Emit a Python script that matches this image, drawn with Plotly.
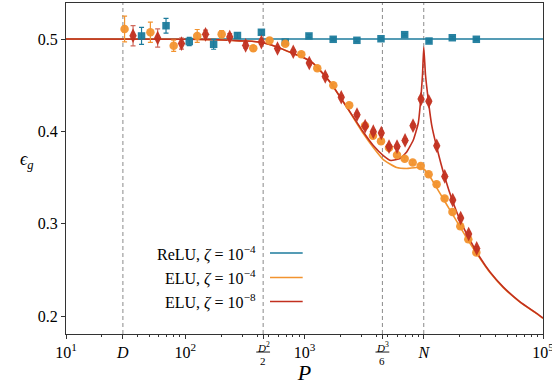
import numpy as np
import plotly.graph_objects as go

# ---------------- data ----------------
vlines_P = [30, 450, 4500, 10000]

relu_P = [43, 69, 108, 173, 274, 435, 690, 1090, 1740, 2750, 4380, 6920, 11070, 17350, 27600]
relu_eg = [0.5033, 0.5144, 0.4973, 0.4943, 0.5038, 0.5073, 0.4967, 0.5033, 0.4997,
           0.4986, 0.5003, 0.5047, 0.4978, 0.5014, 0.4997]
relu_err = [0.0092, 0.0080, 0.0045, 0.0054, 0.0030, 0.0022, 0.0020, 0.0016, 0.0015,
            0.0014, 0.0013, 0.0012, 0.0012, 0.0011, 0.0011]

elu4_P = [31, 51, 80, 126, 202, 372, 509, 690, 940, 1280, 1744, 2371, 3217, 3751, 4380,
          5110, 5968, 6920, 8075, 9425, 10985, 12815, 14960, 17400, 20250, 23630, 27600]
elu4_eg = [0.5108, 0.5073, 0.4927, 0.5033, 0.5051, 0.4899, 0.4984, 0.4949, 0.4835,
           0.4683, 0.4498, 0.4282, 0.4061, 0.3952, 0.3892, 0.3822, 0.3743, 0.3703,
           0.3662, 0.3624, 0.3534, 0.3426, 0.3272, 0.3126, 0.2972, 0.2830, 0.2689]
elu4_err = [0.014, 0.011, 0.006, 0.007, 0.004, 0.003, 0.003, 0.002, 0.002, 0.002, 0.002,
            0.002, 0.002, 0.002, 0.002, 0.002, 0.002, 0.002, 0.002, 0.002, 0.002, 0.002,
            0.002, 0.002, 0.002, 0.002, 0.002]

elu8_P = [36.5, 58.7, 93, 148, 236, 321, 435, 594, 805, 1097, 1493, 2033, 2756, 3226,
          3775, 4406, 5115, 5970, 6970, 8130, 9490, 11030, 12850, 15000, 17500, 20400,
          23800, 27800]
elu8_eg = [0.5036, 0.5011, 0.4950, 0.5051, 0.5022, 0.4930, 0.4967, 0.4897, 0.4862,
           0.4740, 0.4594, 0.4369, 0.4180, 0.4056, 0.3996, 0.3982, 0.3835, 0.3835,
           0.3902, 0.4061, 0.4350, 0.4326, 0.3844, 0.3512, 0.3256, 0.3061, 0.2888, 0.2732]
elu8_err = [0.011, 0.0098, 0.006, 0.0045, 0.0036, 0.003, 0.0025, 0.002, 0.002, 0.002,
            0.002, 0.002, 0.002, 0.002, 0.002, 0.002, 0.002, 0.002, 0.002, 0.002, 0.002,
            0.002, 0.002, 0.002, 0.002, 0.002, 0.002, 0.002]

relu_curve_P = [10, 100000]
relu_curve_eg = [0.5, 0.5]

red_curve_P = [10, 110, 171, 251, 329, 432, 588, 801, 917, 1178, 1636, 2259, 3113, 3775,
               4579, 5313, 6323, 7194, 8173, 9001, 9428, 9761, 10000, 10344, 10920, 11660,
               12840, 14990, 17690, 20140, 24430, 29630, 35940, 46460, 64150, 88560, 100000]
red_curve_eg = [0.5, 0.4998, 0.4993, 0.4984, 0.4978, 0.4964, 0.4913, 0.4843, 0.4816,
                0.4740, 0.4534, 0.4263, 0.3992, 0.3846, 0.3738, 0.3684, 0.3705, 0.3776,
                0.3906, 0.4090, 0.4339, 0.4610, 0.4913, 0.4610, 0.4339, 0.4068, 0.3830,
                0.3505, 0.3223, 0.3039, 0.2822, 0.2633, 0.2476, 0.2313, 0.2154, 0.2028,
                0.1977]

orange_curve_P = [10, 110, 171, 251, 329, 432, 588, 801, 917, 1178, 1636, 2259, 3113, 3775,
                  4579, 5212, 5932, 7194, 8727, 10000, 11280, 13690, 16600, 20140, 24430,
                  29630, 35940, 46460, 64150, 88560, 100000]
orange_curve_eg = [0.5, 0.4998, 0.4993, 0.4984, 0.4978, 0.4964, 0.4913, 0.4843, 0.4816,
                   0.4740, 0.4534, 0.4263, 0.3976, 0.3825, 0.3694, 0.3646, 0.3608, 0.3597,
                   0.3608, 0.3592, 0.3508, 0.3328, 0.3147, 0.2966, 0.2787, 0.2624, 0.2470,
                   0.2308, 0.2151, 0.2026, 0.1974]

x_tickvals = [10, 30, 100, 450, 1000, 4500, 10000, 100000]
x_ticktext = ["10<sup>1</sup>", "<i>D</i>", "10<sup>2</sup>", "", "10<sup>3</sup>", "",
              "<i>N</i>", "10<sup>5</sup>"]
frac_vals = [450, 4500]
frac_num = ["<i>D</i><sup>2</sup>", "<i>D</i><sup>3</sup>"]
frac_den = ["2", "6"]
y_tickvals = [0.2, 0.3, 0.4, 0.5]
y_ticktext = ["0.2", "0.3", "0.4", "0.5"]

legend_labels = ["ReLU, <i>ζ</i> = 10<sup>−4</sup>",
                 "ELU, <i>ζ</i> = 10<sup>−4</sup>",
                 "ELU, <i>ζ</i> = 10<sup>−8</sup>"]

# ---------------- style ----------------
TEAL = "#1c7b9c"
ORANGE = "#f2932f"
RED = "#c2301f"
FONT = "Liberation Serif"
Y_RANGE = [0.1805, 0.539]

fig = go.Figure()

# vertical dashed reference lines
for xv in vlines_P:
    fig.add_trace(go.Scatter(x=[xv, xv], y=Y_RANGE, mode="lines",
                             line=dict(color="#8a8a8a", width=1, dash="4px,3px"),
                             hoverinfo="skip", showlegend=False))

# theory curves
fig.add_trace(go.Scatter(x=relu_curve_P, y=relu_curve_eg, mode="lines",
                         line=dict(color=TEAL, width=1.6), name=legend_labels[0],
                         showlegend=False))
fig.add_trace(go.Scatter(x=orange_curve_P, y=orange_curve_eg, mode="lines",
                         line=dict(color=ORANGE, width=1.6, shape="spline", smoothing=0.6),
                         name=legend_labels[1], showlegend=False))
fig.add_trace(go.Scatter(x=red_curve_P, y=red_curve_eg, mode="lines",
                         line=dict(color=RED, width=1.6, shape="spline", smoothing=0.4),
                         name=legend_labels[2], showlegend=False))

# simulation points
fig.add_trace(go.Scatter(x=relu_P, y=relu_eg, mode="markers",
                         marker=dict(symbol="square", size=7.5, color=TEAL, opacity=0.95),
                         error_y=dict(type="data", array=relu_err, color=TEAL, thickness=1.2,
                                      width=2.5),
                         showlegend=False))
fig.add_trace(go.Scatter(x=elu4_P, y=elu4_eg, mode="markers",
                         marker=dict(symbol="circle", size=8.5, color=ORANGE, opacity=0.95),
                         error_y=dict(type="data", array=elu4_err, color=ORANGE, thickness=1.2,
                                      width=2.5),
                         showlegend=False))
fig.add_trace(go.Scatter(x=elu8_P, y=elu8_eg, mode="markers",
                         marker=dict(symbol="diamond-tall", size=10.5, color=RED, opacity=0.95),
                         error_y=dict(type="data", array=elu8_err, color="#d06a5c",
                                      thickness=1.2, width=2.5),
                         showlegend=False))

fig.update_layout(
    width=552, height=385,
    margin=dict(l=66, r=9, t=3, b=51, autoexpand=False),
    paper_bgcolor="white", plot_bgcolor="white",
    font=dict(family=FONT, size=16, color="black"),
    showlegend=False,
    xaxis=dict(type="log", range=[1, 5], tickmode="array", tickvals=x_tickvals,
               ticktext=x_ticktext, ticks="outside", ticklen=4, tickcolor="#333",
               ticklabeloverflow="allow", automargin=False,
               showline=True, linecolor="#333", linewidth=1, mirror=True,
               showgrid=False, zeroline=False,
               tickfont=dict(family=FONT, size=16),
               minor=dict(ticks="outside", ticklen=2, tickcolor="#333",
                          tickvals=[m * 10 ** e for e in range(1, 5) for m in range(2, 10)],
                          showgrid=False),
               title=dict(text="<i>P</i>", font=dict(family=FONT, size=22), standoff=2)),
    yaxis=dict(range=Y_RANGE, tickmode="array", tickvals=y_tickvals, ticktext=y_ticktext,
               ticks="outside", ticklen=4, tickcolor="#333", automargin=False,
               showline=True, linecolor="#333", linewidth=1, mirror=True,
               showgrid=False, zeroline=False,
               tickfont=dict(family=FONT, size=16)),
)

# y label (horizontal, as in the reference)
fig.add_annotation(text="<i>ϵ</i><sub><i>g</i></sub>", xref="paper", yref="paper",
                   x=-0.1, y=0.525, showarrow=False, font=dict(family=FONT, size=18))

# fraction tick labels D^2/2 and D^3/6
for val, num, den in zip(frac_vals, frac_num, frac_den):
    fig.add_annotation(text=num, xref="x", yref="paper", x=np.log10(val), y=-0.012,
                       yanchor="top", showarrow=False, font=dict(family=FONT, size=11))
    fig.add_annotation(text=den, xref="x", yref="paper", x=np.log10(val), y=-0.058,
                       yanchor="top", showarrow=False, font=dict(family=FONT, size=11))
    xp = (np.log10(val) - 1) / 4
    fig.add_shape(type="line", xref="paper", yref="paper", x0=xp - 0.0145, x1=xp + 0.0145,
                  y0=-0.0545, y1=-0.0545, line=dict(color="black", width=0.9))

# legend (text first, line sample after it, as in the reference)
leg_colors = [TEAL, ORANGE, RED]
leg_y = [0.2447, 0.1707, 0.0982]
for lab, col, yy in zip(legend_labels, leg_colors, leg_y):
    fig.add_annotation(text=lab, xref="paper", yref="paper", x=0.4025, y=yy,
                       xanchor="right", yanchor="middle", showarrow=False,
                       font=dict(family=FONT, size=16))
    fig.add_shape(type="line", xref="paper", yref="paper", x0=0.4277, x1=0.4962,
                  y0=yy, y1=yy, line=dict(color=col, width=1.6))

fig.write_html("out.html")
